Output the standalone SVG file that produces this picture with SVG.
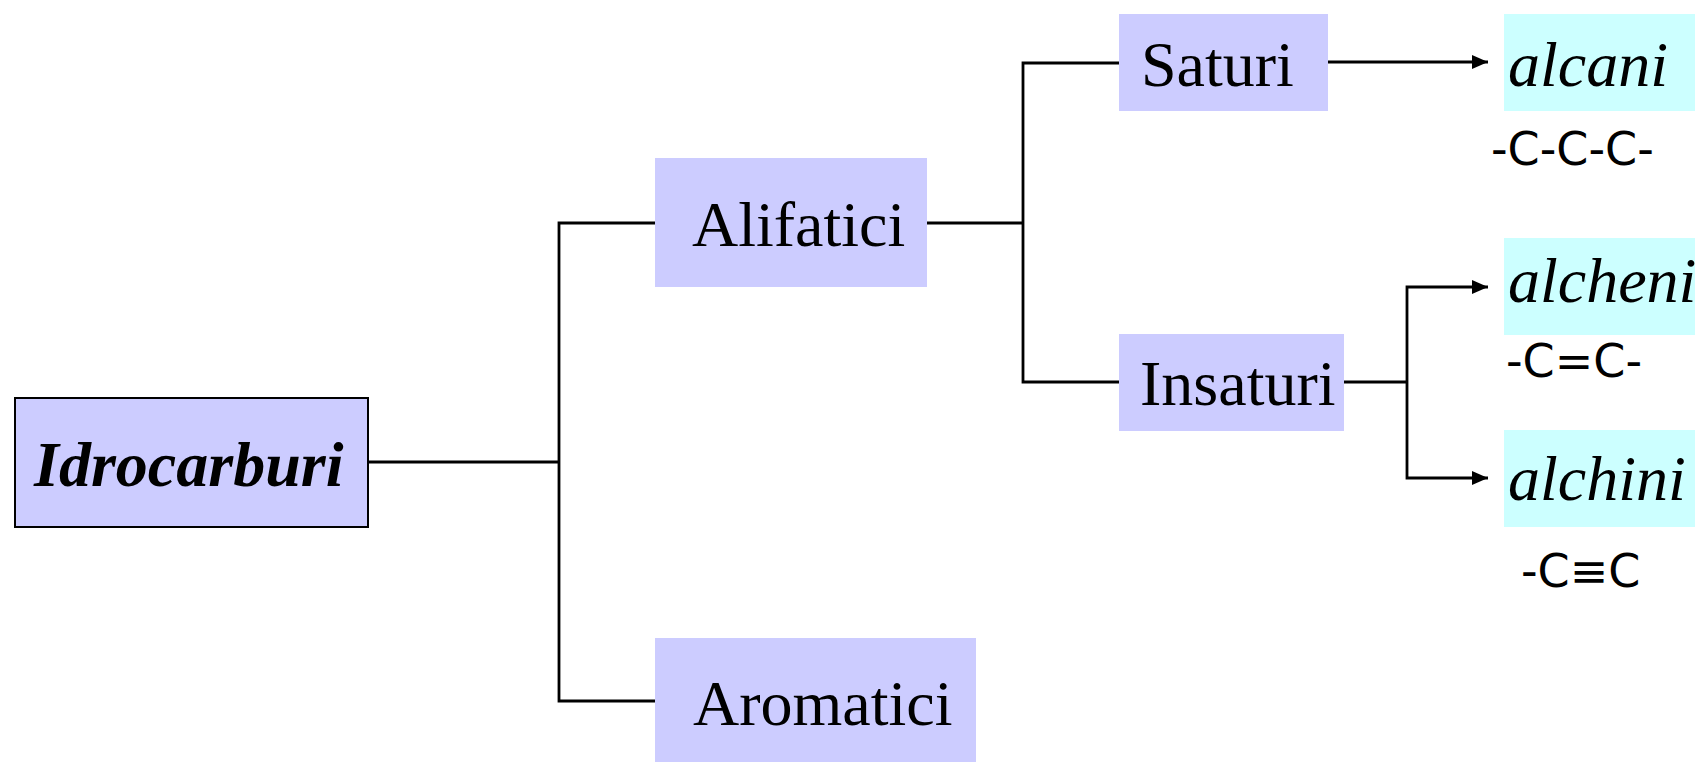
<svg xmlns="http://www.w3.org/2000/svg" width="1695" height="762" viewBox="0 0 1695 762">
<style>
.cat{fill:#CCCCFF}
.res{fill:#CCFFFF}
.lbl{font-family:"Liberation Serif","Times New Roman",serif;font-size:64px;fill:#000}
.it{font-style:italic}
.formula{font-family:"DejaVu Sans",sans-serif;font-size:46px;fill:#000}
.ln{fill:none;stroke:#000;stroke-width:2.8}
</style>
<defs>
<marker id="arr" markerWidth="16" markerHeight="14" refX="16" refY="7" orient="auto" markerUnits="userSpaceOnUse">
<path d="M0,0 L16,7 L0,14 Z" fill="#000"/>
</marker>
</defs>
<rect width="1695" height="762" fill="#fff"/>
<g id="connectors">
<path class="ln" d="M368,462 H559"/>
<path class="ln" d="M655,223 H559 V701 H655"/>
<path class="ln" d="M927,223 H1023"/>
<path class="ln" d="M1119,63 H1023 V382 H1119"/>
<path class="ln" d="M1328,62 H1488" marker-end="url(#arr)"/>
<path class="ln" d="M1344,382 H1407"/>
<path class="ln" d="M1407,382 V287 H1488" marker-end="url(#arr)"/>
<path class="ln" d="M1407,382 V478 H1488" marker-end="url(#arr)"/>
</g>
<g id="idrocarburi">
<rect x="15" y="398" width="353" height="129" class="cat" stroke="#000" stroke-width="2"/>
<text x="34" y="486" class="lbl it" font-weight="bold">Idrocarburi</text>
</g>
<g id="alifatici">
<rect x="655" y="158" width="272" height="129" class="cat"/>
<text x="692" y="246" class="lbl">Alifatici</text>
</g>
<g id="aromatici">
<rect x="655" y="638" width="321" height="124" class="cat"/>
<text x="693" y="725" class="lbl">Aromatici</text>
</g>
<g id="saturi">
<rect x="1119" y="14" width="209" height="97" class="cat"/>
<text x="1141" y="86" class="lbl">Saturi</text>
</g>
<g id="insaturi">
<rect x="1119" y="334" width="225" height="97" class="cat"/>
<text x="1140" y="405" class="lbl">Insaturi</text>
</g>
<g id="alcani">
<rect x="1504" y="14" width="191" height="97" class="res"/>
<text x="1508" y="86" class="lbl it">alcani</text>
<text x="1491" y="165" class="formula">-C-C-C-</text>
</g>
<g id="alcheni">
<rect x="1504" y="238" width="191" height="97" class="res"/>
<text x="1508" y="302" class="lbl it">alcheni</text>
<text x="1506" y="377" class="formula">-C=C-</text>
</g>
<g id="alchini">
<rect x="1504" y="430" width="191" height="97" class="res"/>
<text x="1508" y="500" class="lbl it">alchini</text>
<text x="1521" y="587" class="formula">-C≡C</text>
</g>
</svg>
